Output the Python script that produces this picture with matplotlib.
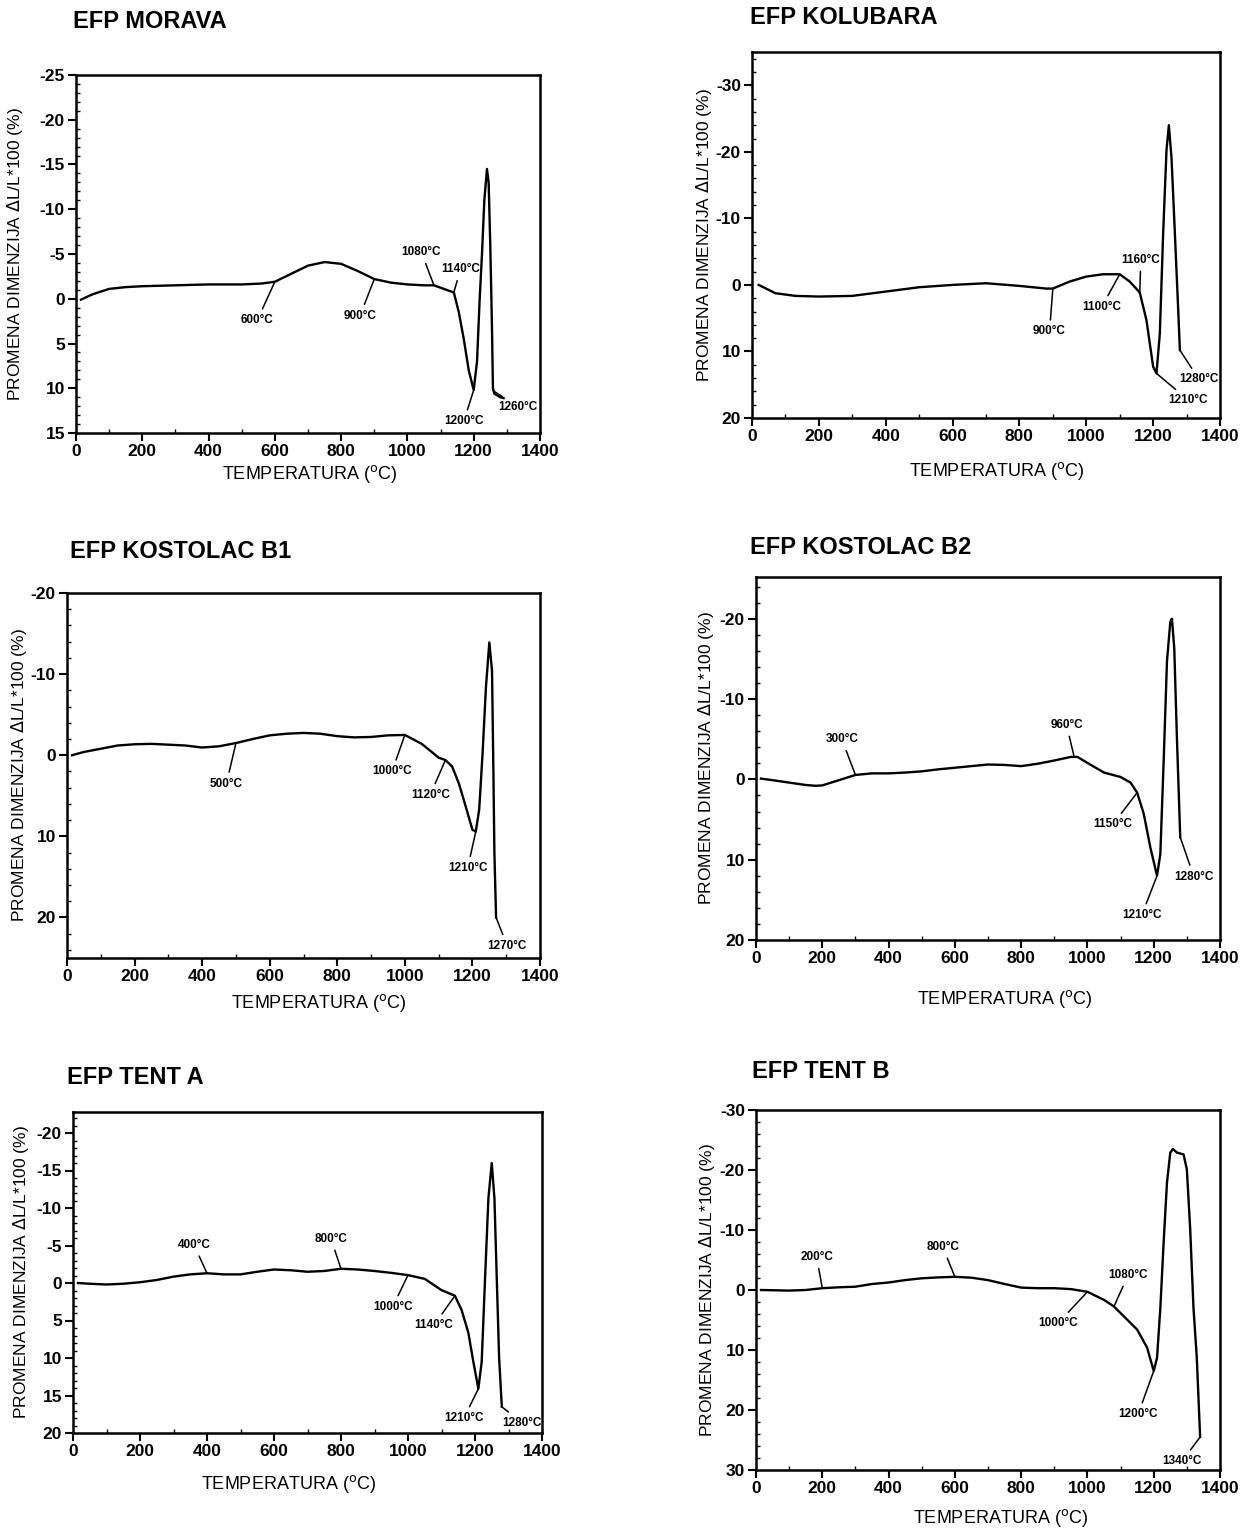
import numpy as np
import matplotlib
matplotlib.use("Agg")
import matplotlib.pyplot as plt
from matplotlib.ticker import MultipleLocator

plt.rcParams['font.family'] = ['Liberation Sans', 'DejaVu Sans']
plt.rcParams['axes.unicode_minus'] = False

# ---- podaci ocitani sa dijagrama ----
titles = ["EFP MORAVA", "EFP KOLUBARA", "EFP KOSTOLAC B1",
          "EFP KOSTOLAC B2", "EFP TENT A", "EFP TENT B"]

morava_t = [15, 50, 100, 150, 200, 300, 400, 500, 560, 600, 650, 700, 750, 800, 850, 900,
            950, 1000, 1050, 1080, 1110, 1140, 1155, 1170, 1185, 1200, 1210, 1218, 1225,
            1232, 1240, 1245, 1250, 1255, 1258, 1262, 1280, 1290]
morava_d = [0.1, -0.5, -1.1, -1.3, -1.4, -1.5, -1.6, -1.6, -1.7, -1.9, -2.8, -3.7, -4.1, -3.9,
            -3.1, -2.2, -1.8, -1.6, -1.5, -1.5, -1.1, -0.7, 1.5, 4.5, 8.0, 10.2, 7.0, 0.0, -5.0,
            -11.0, -14.5, -13.0, -6.0, 3.0, 10.0, 10.6, 11.0, 11.1]

kolubara_t = [20, 70, 130, 200, 300, 400, 500, 600, 700, 800, 880, 900, 950, 1000, 1050,
              1100, 1130, 1160, 1180, 1200, 1210, 1220, 1230, 1240, 1247, 1255, 1265, 1275, 1280]
kolubara_d = [0.0, 1.25, 1.65, 1.75, 1.65, 1.0, 0.35, 0.0, -0.25, 0.15, 0.55, 0.55, -0.5,
              -1.25, -1.6, -1.6, -0.5, 1.15, 5.3, 12.3, 13.3, 7.3, -7.8, -20.3, -24.0, -19.0,
              -7.8, 3.8, 9.8]

kostolac1_t = [15, 50, 100, 150, 200, 250, 300, 350, 400, 450, 500, 550, 600, 650, 700, 750,
               800, 850, 900, 950, 1000, 1050, 1100, 1120, 1140, 1160, 1180, 1200, 1210, 1220,
               1230, 1240, 1250, 1258, 1262, 1265, 1270]
kostolac1_d = [0.0, -0.4, -0.8, -1.2, -1.35, -1.4, -1.3, -1.2, -0.95, -1.1, -1.5, -2.0, -2.45,
               -2.65, -2.75, -2.65, -2.35, -2.2, -2.25, -2.45, -2.5, -1.4, 0.3, 0.6, 1.4, 3.5,
               6.3, 9.2, 9.4, 6.7, -0.2, -8.4, -13.9, -10.4, 1.8, 12.0, 20.0]

kostolac2_t = [15, 50, 100, 150, 180, 200, 250, 300, 350, 400, 450, 500, 550, 600, 650, 700,
               750, 800, 850, 900, 950, 970, 1000, 1050, 1100, 1130, 1150, 1170, 1190, 1210,
               1220, 1230, 1240, 1250, 1255, 1262, 1270, 1280]
kostolac2_d = [-0.1, 0.1, 0.4, 0.7, 0.8, 0.75, 0.1, -0.55, -0.75, -0.75, -0.85, -1.0, -1.25,
               -1.45, -1.65, -1.85, -1.8, -1.65, -1.95, -2.35, -2.8, -2.8, -2.05, -0.85, -0.3,
               0.4, 1.65, 4.3, 8.5, 12.0, 9.3, -2.3, -14.7, -19.6, -20.0, -16.3, -5.2, 7.2]

tenta_t = [15, 50, 100, 150, 200, 250, 300, 350, 400, 450, 500, 550, 600, 650, 700, 750, 800,
           850, 900, 950, 1000, 1050, 1100, 1140, 1160, 1180, 1195, 1210, 1220, 1230, 1240,
           1250, 1258, 1265, 1272, 1280]
tenta_d = [0.0, 0.1, 0.2, 0.1, -0.1, -0.4, -0.85, -1.15, -1.3, -1.15, -1.15, -1.5, -1.8, -1.7,
           -1.5, -1.6, -1.9, -1.8, -1.6, -1.35, -1.05, -0.55, 0.95, 1.7, 3.6, 6.6, 10.5, 14.1,
           10.5, -0.6, -11.3, -16.0, -11.3, -0.6, 10.0, 16.5]

tentb_t = [15, 100, 150, 200, 250, 300, 350, 400, 450, 500, 550, 600, 650, 700, 750, 800, 850,
           900, 950, 1000, 1050, 1080, 1100, 1150, 1180, 1200, 1210, 1220, 1230, 1240, 1250,
           1258, 1270, 1290, 1300, 1310, 1320, 1330, 1340]
tentb_d = [0.0, 0.1, 0.0, -0.3, -0.45, -0.55, -1.0, -1.25, -1.65, -1.95, -2.1, -2.2, -2.05,
           -1.65, -1.0, -0.4, -0.3, -0.3, -0.15, 0.3, 1.65, 2.75, 3.85, 6.6, 9.6, 13.5, 11.3,
           3.0, -8.0, -17.9, -22.9, -23.5, -22.9, -22.6, -20.1, -10.2, 3.0, 11.3, 24.5]

# temperature oznacene na krivama
morava_marks = [600, 900, 1080, 1140, 1200, 1260]
kolubara_marks = [900, 1100, 1160, 1210, 1280]
kostolac1_marks = [500, 1000, 1120, 1210, 1270]
kostolac2_marks = [300, 960, 1150, 1210, 1280]
tenta_marks = [400, 800, 1000, 1140, 1210, 1280]
tentb_marks = [200, 800, 1000, 1080, 1200, 1340]

# ---- raspored (pikseli) ----
W, H = 1241, 1528
boxes = [(76, 540, 75, 433), (752, 1220, 52, 418), (67, 540, 593, 958),
         (756, 1220, 577, 940), (73, 542, 1112, 1433), (756, 1220, 1110, 1470)]
ylims = [(15, -25), (20, -35), (25, -20), (20, -25.2), (20, -22.8), (30, -30)]
ymajor = [5, 10, 10, 10, 5, 10]
title_pos = [(73, 22), (750, 18), (70, 552), (750, 548), (67, 1078), (752, 1072)]
ylabel_x = [25, 714, 29, 716, 31, 717]          # desna ivica zarotiranog teksta
xlabel_xy = [(310, 463), (997, 460), (319, 992), (1005, 988), (289, 1473), (1001, 1507)]
# polozaj natpisa (T, y) za svaku oznaku
label_pos = [
    [(547, 2.4), (857, 1.9), (1042, -5.2), (1160, -3.3), (1170, 13.7), (1334, 12.1)],
    [(890, 7.0), (1046, 3.3), (1163, -3.8), (1305, 17.3), (1337, 14.2)],
    [(472, 3.5), (962, 2.0), (1075, 4.9), (1186, 13.9), (1303, 23.5)],
    [(259, -5.0), (937, -6.8), (1077, 5.6), (1164, 16.9), (1321, 12.1)],
    [(361, -5.1), (770, -5.9), (954, 3.2), (1078, 5.6), (1167, 18.0), (1339, 18.6)],
    [(183, -5.5), (563, -7.2), (912, 5.5), (1123, -2.5), (1153, 20.7), (1286, 28.5)],
]
# kod TENT B natpis "800" stoji na krivoj kod 600
mark_at = [None, None, None, None, None, [200, 600, 1000, 1080, 1200, 1340]]

series = [(morava_t, morava_d, morava_marks), (kolubara_t, kolubara_d, kolubara_marks),
          (kostolac1_t, kostolac1_d, kostolac1_marks), (kostolac2_t, kostolac2_d, kostolac2_marks),
          (tenta_t, tenta_d, tenta_marks), (tentb_t, tentb_d, tentb_marks)]

fig = plt.figure(figsize=(W / 100, H / 100), dpi=100)

for i, (t, d, marks) in enumerate(series):
    l, r, tp, b = boxes[i]
    ax = fig.add_axes([l / W, 1 - b / H, (r - l) / W, (b - tp) / H])
    ax.plot(t, d, color='black', lw=1.7)
    ax.set_xlim(0, 1400)
    ax.set_ylim(*ylims[i])
    ax.xaxis.set_major_locator(MultipleLocator(200))
    ax.xaxis.set_minor_locator(MultipleLocator(100))
    ax.yaxis.set_major_locator(MultipleLocator(ymajor[i]))
    ax.yaxis.set_minor_locator(MultipleLocator(ymajor[i] / 5))
    ax.tick_params(which='major', direction='out', length=6, width=1.5, pad=2, labelsize=12.5)
    ax.tick_params(which='minor', direction='in', length=3, width=1)
    for lab in ax.get_xticklabels() + ax.get_yticklabels():
        lab.set_fontweight('bold')
    for s in ax.spines.values():
        s.set_linewidth(1.8)

    ax.set_ylabel(r'PROMENA DIMENZIJA $\Delta$L/L*100 (%)', fontsize=12.5)
    ax.yaxis.set_label_coords((ylabel_x[i] - l) / (r - l), 0.5)
    ax.set_xlabel(r'TEMPERATURA ($^{\rm o}$C)', fontsize=13)
    lx, ly = xlabel_xy[i]
    ax.xaxis.set_label_coords((lx - l) / (r - l), -(ly - b) / (b - tp))

    tx, ty = title_pos[i]
    fig.text(tx / W, 1 - ty / H, titles[i], fontsize=17, fontweight='bold',
             ha='left', va='center')

    at = mark_at[i] if mark_at[i] else marks
    for m, a, (px, py) in zip(marks, at, label_pos[i]):
        yc = np.interp(a, t, d)
        ax.annotate(f"{m}°C", xy=(a, yc), xytext=(px, py), fontsize=8.5, fontweight='bold',
                    ha='center', va='center',
                    arrowprops=dict(arrowstyle='-', lw=1.1, color='black',
                                    shrinkA=2, shrinkB=0))

fig.savefig("out.png", dpi=100)
